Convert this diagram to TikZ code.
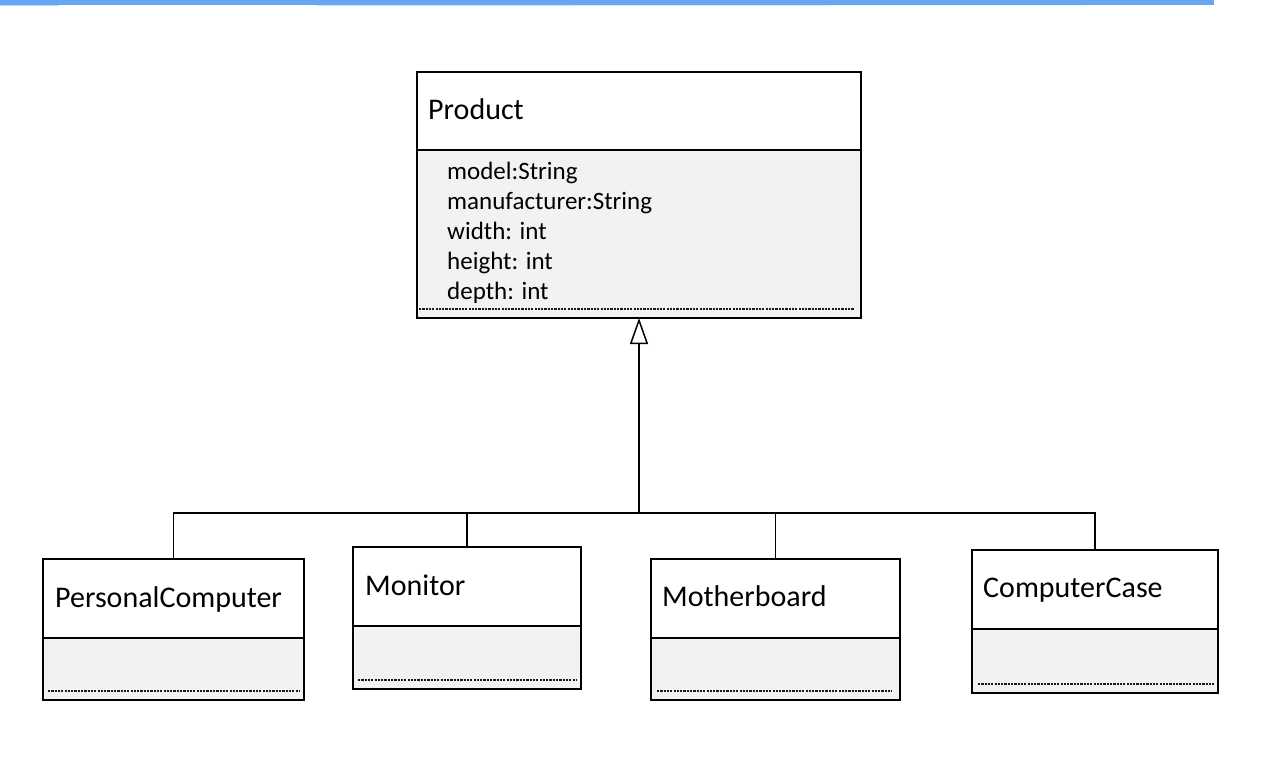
\documentclass[tikz,border=0pt]{standalone}
\usepackage{fontspec}
\setmainfont{Carlito}
\usetikzlibrary{arrows.meta}
\definecolor{barblue}{HTML}{66A6F2}
\definecolor{attrgray}{HTML}{F2F2F2}
\begin{document}
\begin{tikzpicture}[x=1pt,y=-1pt,
  titlecomp/.style={draw=black, fill=white, line width=1.3pt, anchor=north west, inner sep=0pt, outer sep=0pt},
  attrcomp/.style={draw=black, fill=attrgray, line width=1.3pt, anchor=north west, inner sep=0pt, outer sep=0pt},
  sepline/.style={draw=black!90, line width=1.1pt, dash pattern=on 2.2pt off 1.1pt},
  classname/.style={anchor=base west, inner sep=0pt, font=\fontsize{30}{34}\selectfont},
  prodname/.style={anchor=base west, inner sep=0pt, font=\fontsize{30}{34}\selectfont},
  attrtext/.style={anchor=base west, inner sep=0pt, font=\fontsize{25}{30}\selectfont},
  conn/.style={draw=black, line width=1.3pt},
  trunk/.style={draw=black, line width=2pt},
  gentip/.style={-{Triangle[open, length=26pt, width=18pt, line width=1.5pt]}}
]
\useasboundingbox (0,0) rectangle (1264,760);
\fill[white] (0,0) rectangle (1264,760);
% top bar
\fill[barblue] (0,0) rectangle (1214,5);
\fill[barblue!45] (0,5) rectangle (59,6.5);
\fill[barblue!30] (316,5) rectangle (573,6);
\fill[barblue!22] (573,5) rectangle (829,6);
\fill[barblue!14] (829,5) rectangle (1086,6);

% Product
\node[titlecomp, minimum width=444pt, minimum height=78pt] (prodT) at (417,72) {};
\node[attrcomp, minimum width=444pt, minimum height=168pt] (prodA) at (417,150) {};
\draw[sepline] ([xshift=2pt,yshift=9pt]prodA.south west) -- ([xshift=-7pt,yshift=9pt]prodA.south east);
\node[prodname] (prodN) at (428,119) {Product};
\node[attrtext] (a1) at (447,179) {model:String};
\node[attrtext] (a2) at (447,209) {manufacturer:String};
\node[attrtext] (a3) at (447,239) {width: int};
\node[attrtext] (a4) at (447,269) {height: int};
\node[attrtext] (a5) at (447,299) {depth: int};

% PersonalComputer
\node[titlecomp, minimum width=261pt, minimum height=79pt] (pcT) at (43,559) {};
\node[attrcomp, minimum width=261pt, minimum height=62pt] (pcA) at (43,638) {};
\draw[sepline] ([xshift=5pt,yshift=9pt]pcA.south west) -- ([xshift=-5pt,yshift=9pt]pcA.south east);
\node[classname] (pcN) at (55,607) {PersonalComputer};

% Monitor
\node[titlecomp, minimum width=228pt, minimum height=79pt] (monT) at (353,547) {};
\node[attrcomp, minimum width=228pt, minimum height=63pt] (monA) at (353,626) {};
\draw[sepline] ([xshift=5pt,yshift=9pt]monA.south west) -- ([xshift=-5pt,yshift=9pt]monA.south east);
\node[classname] (monN) at (365,595) {Monitor};

% Motherboard
\node[titlecomp, minimum width=249pt, minimum height=79pt] (mbT) at (651,559) {};
\node[attrcomp, minimum width=249pt, minimum height=62pt] (mbA) at (651,638) {};
\draw[sepline] ([xshift=6pt,yshift=9pt]mbA.south west) -- ([xshift=-8pt,yshift=9pt]mbA.south east);
\node[classname] (mbN) at (662,606) {Motherboard};

% ComputerCase
\node[titlecomp, minimum width=246pt, minimum height=79pt] (ccT) at (972,550) {};
\node[attrcomp, minimum width=246pt, minimum height=64pt] (ccA) at (972,629) {};
\draw[sepline] ([xshift=6pt,yshift=9pt]ccA.south west) -- ([xshift=-4pt,yshift=9pt]ccA.south east);
\node[classname] (ccN) at (983,597) {ComputerCase};

% connectors
\coordinate (j) at (639,513);
\draw[conn] (pcT.north) |- (j);
\draw[conn] (mbT.north) |- (j);
\draw[conn] (ccT.north) |- (j);
\draw[trunk] (monT.north) |- (j);
\draw[trunk, gentip] (j) -- (prodA.south);
\end{tikzpicture}
\end{document}
